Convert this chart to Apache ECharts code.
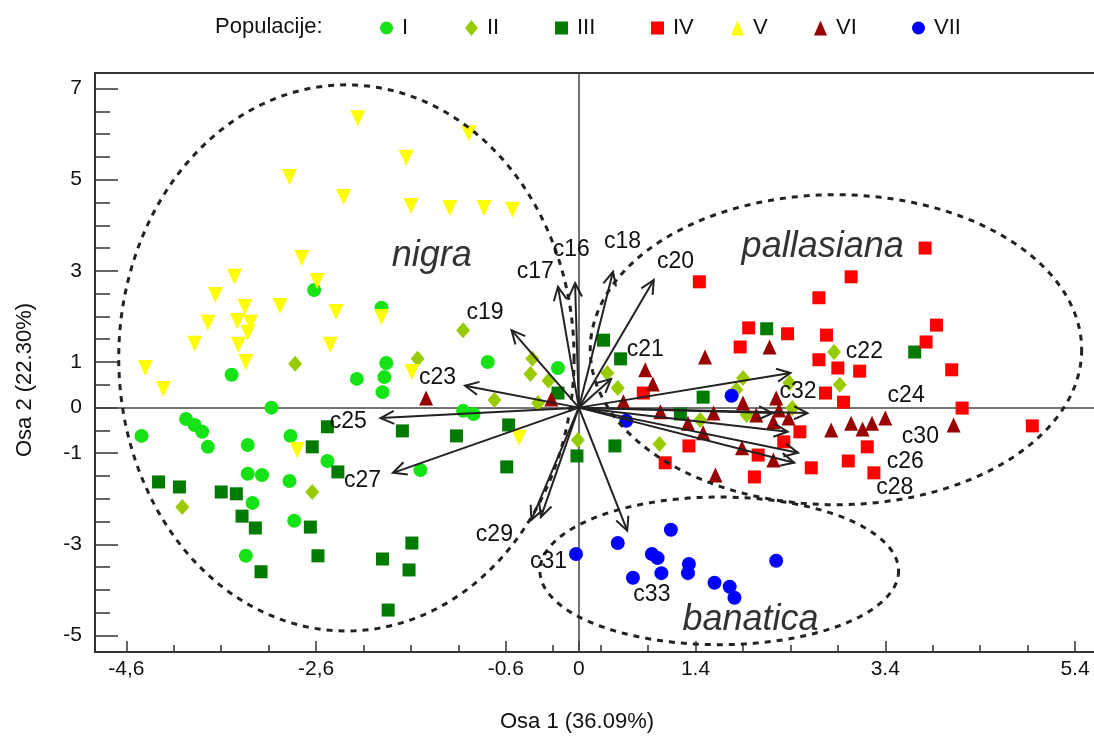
<!DOCTYPE html>
<html>
<head>
<meta charset="utf-8">
<script src="https://cdn.jsdelivr.net/npm/echarts@6/dist/echarts.min.js"></script>
<style>
  html, body { margin: 0; padding: 0; background: #fff; }
  #chart { width: 1094px; height: 738px; }
</style>
</head>
<body>
<div id="chart"></div>
<script>
const FONT = "'Liberation Sans', Arial, sans-serif";

// osa 1 / osa 2 ticks
const xLabelValues = [-4.6, -2.6, -0.6, 0.17, 1.4, 3.4, 5.4];
const xLabelText = ['-4,6', '-2,6', '-0.6', '0', '1.4', '3.4', '5.4'];
const xMinorTicks = [-4.6, -4.1, -3.6, -3.1, -2.6, -2.1, -1.6, -1.1, -0.6, -0.1, 0.4, 0.9, 1.4, 1.9, 2.4, 2.9, 3.4, 3.9, 4.4, 4.9, 5.4];
const yLabelValues = [-5, -3, -1, 0, 1, 3, 5, 7];
const yMinorTicks = [-5, -4.5, -4, -3.5, -3, -2.5, -2, -1.5, -1, -0.5, 0, 0.5, 1, 1.5, 2, 2.5, 3, 3.5, 4, 4.5, 5, 5.5, 6, 6.5, 7];
const originX = 0.17;

// populacije
const popI_x = [-2.62, -1.91, -3.49, -3.07, -3.97, -3.88, -3.80, -4.44, -3.74, -3.32, -2.87, -3.32, -3.17, -2.88, -2.48, -3.27, -2.83, -3.34, -1.86, -1.88, -1.90, -2.17, -0.79, -0.05, -1.05, -0.94, -1.50];
const popI_y = [2.58, 2.19, 0.72, 0.00, -0.25, -0.38, -0.53, -0.62, -0.86, -0.82, -0.62, -1.45, -1.48, -1.61, -1.17, -2.09, -2.48, -3.25, 0.98, 0.67, 0.34, 0.63, 1.00, 0.87, -0.07, -0.14, -1.37];

const popII_x = [-1.05, -1.53, -2.82, -0.32, -0.34, -0.15, -0.72, -0.26, 0.16, -2.64, -4.01, 0.47, 0.58, 1.90, 1.83, 1.02, 1.45, 1.94, 2.39, 2.42, 2.86, 2.92];
const popII_y = [1.70, 1.07, 0.96, 1.07, 0.74, 0.59, 0.17, 0.10, -0.71, -1.85, -2.18, 0.76, 0.43, 0.65, 0.39, -0.80, -0.27, -0.16, 0.54, -0.01, 1.22, 0.50];

const popIII_x = [-2.48, -2.64, -2.37, -4.26, -4.04, -3.60, -3.44, -3.38, -3.24, -2.66, -2.58, -3.18, -1.69, -1.12, -0.57, -0.59, -0.05, 0.15, -1.59, -1.90, -1.62, -1.84, 0.43, 0.61, 1.48, 2.15, 1.24, 0.55, 3.71];
const popIII_y = [-0.42, -0.86, -1.41, -1.63, -1.74, -1.85, -1.89, -2.38, -2.64, -2.62, -3.25, -3.60, -0.51, -0.62, -0.38, -1.30, 0.32, -1.06, -2.97, -3.32, -3.56, -4.44, 1.48, 1.07, 0.23, 1.73, -0.14, -0.84, 1.22];

const popIV_x = [1.44, 2.70, 1.96, 2.37, 2.78, 1.87, 2.70, 0.85, 2.77, 2.50, 2.33, 1.33, 2.06, 1.08, 2.62, 2.02, 3.82, 3.04, 3.94, 3.83, 2.90, 3.13, 4.10, 2.96, 4.21, 4.95, 3.21, 3.01, 3.28];
const popIV_y = [2.76, 2.41, 1.75, 1.62, 1.59, 1.33, 1.05, 0.32, 0.32, -0.53, -0.75, -0.84, -1.04, -1.21, -1.32, -1.52, 3.50, 2.87, 1.81, 1.44, 0.87, 0.80, 0.83, 0.12, -0.01, -0.40, -0.86, -1.17, -1.43];

const popV_x = [-2.16, -0.99, -1.65, -2.88, -2.31, -1.60, -1.19, -0.83, -0.53, -2.75, -3.46, -2.59, -3.66, -3.35, -2.98, -2.39, -1.91, -3.74, -3.43, -3.29, -3.32, -3.88, -3.42, -2.45, -3.34, -4.40, -4.21, -1.59, -2.80, -0.46];
const popV_y = [6.35, 6.02, 5.48, 5.06, 4.62, 4.42, 4.38, 4.38, 4.34, 3.28, 2.87, 2.78, 2.47, 2.21, 2.23, 2.10, 1.99, 1.86, 1.90, 1.86, 1.64, 1.40, 1.38, 1.38, 1.00, 0.87, 0.41, 0.78, -0.93, -0.66];

const popVI_x = [-1.44, -0.12, 2.18, 1.50, 0.87, 0.95, 0.64, 1.90, 2.25, 1.03, 1.59, 2.04, 2.28, 2.38, 2.22, 1.32, 1.48, 1.89, 2.22, 1.61, 2.83, 3.04, 3.16, 3.26, 3.40, 4.12];
const popVI_y = [0.21, 0.19, 1.33, 1.11, 0.83, 0.52, 0.13, 0.10, 0.21, -0.09, -0.12, -0.16, -0.05, -0.23, -0.31, -0.34, -0.55, -0.88, -1.15, -1.48, -0.49, -0.34, -0.47, -0.34, -0.23, -0.38];

const popVII_x = [1.78, 0.67, 0.14, 0.58, 0.94, 1.00, 1.14, 0.74, 1.04, 1.33, 1.32, 1.60, 1.76, 1.81, 2.25];
const popVII_y = [0.26, -0.29, -3.21, -2.97, -3.21, -3.30, -2.68, -3.73, -3.63, -3.43, -3.63, -3.84, -3.93, -4.17, -3.36];

// vektori znakova
const vecNames = ['c16', 'c17', 'c18', 'c19', 'c20', 'c21', 'c22', 'c23', 'c24', 'c25', 'c26', 'c27', 'c28', 'c29', 'c30', 'c31', 'c32', 'c33'];
const vecX = [0.13, -0.05, 0.53, -0.54, 0.96, 0.51, 2.40, -1.03, 2.58, -1.92, 2.48, -1.79, 2.44, -0.33, 2.37, -0.23, 2.21, 0.68];
const vecY = [2.73, 2.65, 2.98, 1.70, 2.80, 0.63, 0.76, 0.48, -0.12, -0.23, -0.99, -1.43, -1.21, -2.46, -0.53, -2.40, -0.12, -2.70];
const vecLabelX = [0.09, -0.29, 0.63, -0.82, 1.19, 0.87, 3.18, -1.32, 3.62, -2.26, 3.61, -2.11, 3.50, -0.72, 3.77, -0.15, 2.48, 0.94];
const vecLabelY = [3.46, 2.98, 3.63, 2.08, 3.20, 1.27, 1.22, 0.65, 0.26, -0.31, -1.19, -1.61, -1.76, -2.79, -0.64, -3.38, 0.34, -4.11];

// elipse: centar x, centar y, poluos x, poluos y
const groupNames = ['nigra', 'pallasiana', 'banatica'];
const ellCx = [-2.28, 2.88, 1.65];
const ellCy = [1.09, 1.27, -3.58];
const ellRx = [2.40, 2.59, 1.89];
const ellRy = [5.99, 3.40, 1.62];
const groupLabelX = [-1.38, 2.74, 1.98];
const groupLabelY = [3.33, 3.52, -4.66];

const X_MIN = -4.93, X_MAX = 5.60, Y_MIN = -5.36, Y_MAX = 7.34;

const pops = [
  { name: 'I', xs: popI_x, ys: popI_y, symbol: 'circle', size: 14, color: '#16e316' },
  { name: 'II', xs: popII_x, ys: popII_y, symbol: 'diamond', size: [14, 16], color: '#99cc00' },
  { name: 'III', xs: popIII_x, ys: popIII_y, symbol: 'rect', size: 13, color: '#007a00' },
  { name: 'IV', xs: popIV_x, ys: popIV_y, symbol: 'rect', size: 13, color: '#ff0000' },
  { name: 'V', xs: popV_x, ys: popV_y, symbol: 'triangle', size: [15, 16], rotate: 180, color: '#ffff00' },
  { name: 'VI', xs: popVI_x, ys: popVI_y, symbol: 'triangle', size: [14, 15], color: '#990000' },
  { name: 'VII', xs: popVII_x, ys: popVII_y, symbol: 'circle', size: 14, color: '#0000ff' }
];

const legendLeft = [375, 460, 550, 646, 726, 809, 907];

const chart = echarts.init(document.getElementById('chart'));

function textSeries(xs, ys, texts, font, color) {
  return {
    type: 'custom',
    silent: true,
    z: 20,
    data: xs.map((x, i) => [x, ys[i]]),
    encode: { x: 0, y: 1 },
    renderItem: (params, api) => {
      const p = api.coord([api.value(0), api.value(1)]);
      return {
        type: 'text', x: p[0], y: p[1],
        style: { text: texts[params.dataIndex], font: font, fill: color, align: 'center', verticalAlign: 'middle' }
      };
    }
  };
}

const series = pops.map(p => ({
  name: p.name,
  type: 'scatter',
  symbol: p.symbol,
  symbolSize: p.size,
  symbolRotate: p.rotate || 0,
  itemStyle: { color: p.color, opacity: 1 },
  data: p.xs.map((x, i) => [x, p.ys[i]]),
  z: 5
}));

// nulte linije
series.push({
  type: 'scatter', data: [], silent: true, z: 2,
  markLine: {
    silent: true, symbol: 'none', animation: false,
    label: { show: false },
    lineStyle: { color: '#444', width: 1.5, type: 'solid' },
    data: [{ xAxis: originX }, { yAxis: 0 }]
  }
});

// elipse
series.push({
  type: 'custom', silent: true, z: 6,
  data: ellCx.map((c, i) => [c, ellCy[i], ellRx[i], ellRy[i]]),
  encode: { x: 0, y: 1 },
  renderItem: (params, api) => {
    const c = api.coord([api.value(0), api.value(1)]);
    const s = api.size([api.value(2), api.value(3)]);
    const pts = [];
    for (let k = 0; k < 180; k++) {
      const t = k / 180 * Math.PI * 2;
      pts.push([c[0] + s[0] * Math.cos(t), c[1] + s[1] * Math.sin(t)]);
    }
    return {
      type: 'polygon', shape: { points: pts },
      style: { fill: null, stroke: '#222', lineWidth: 3, lineDash: [6, 6] }
    };
  }
});

// strelice
series.push({
  type: 'custom', silent: true, z: 10,
  data: vecX.map((x, i) => [x, vecY[i]]),
  encode: { x: 0, y: 1 },
  renderItem: (params, api) => {
    const o = api.coord([originX, 0]);
    const t = api.coord([api.value(0), api.value(1)]);
    const ang = Math.atan2(t[1] - o[1], t[0] - o[0]);
    const L = 15, A = 0.45;
    const h1 = [t[0] - L * Math.cos(ang - A), t[1] - L * Math.sin(ang - A)];
    const h2 = [t[0] - L * Math.cos(ang + A), t[1] - L * Math.sin(ang + A)];
    return {
      type: 'group',
      children: [
        { type: 'line', shape: { x1: o[0], y1: o[1], x2: t[0], y2: t[1] }, style: { stroke: '#222', lineWidth: 2 } },
        { type: 'polyline', shape: { points: [h1, t, h2] }, style: { stroke: '#222', lineWidth: 2, fill: null } }
      ]
    };
  }
});

series.push(textSeries(vecLabelX, vecLabelY, vecNames, '23px ' + FONT, '#111'));
series.push(textSeries(groupLabelX, groupLabelY, groupNames, 'italic 36px ' + FONT, '#333'));

const legends = pops.map((p, i) => ({
  data: [p.name],
  left: legendLeft[i],
  top: 12,
  itemWidth: 13,
  itemHeight: p.symbol === 'diamond' ? 16 : (p.symbol === 'triangle' ? 15 : 13),
  textStyle: { fontSize: 22, color: '#111', fontFamily: FONT, padding: [0, 0, 0, 4] },
  selectedMode: false
}));

const axisLine = { show: true, onZero: false, lineStyle: { color: '#333', width: 2 } };

chart.setOption({
  animation: false,
  backgroundColor: '#fff',
  textStyle: { fontFamily: FONT },
  grid: { left: 95, top: 73, right: 0, bottom: 86, containLabel: false },
  legend: legends,
  graphic: [
    { type: 'text', x: 215, y: 27, style: { text: 'Populacije:', font: '22px ' + FONT, fill: '#111', verticalAlign: 'middle' } },
    { type: 'text', x: 577, y: 722, style: { text: 'Osa 1 (36.09%)', font: '22px ' + FONT, fill: '#111', align: 'center', verticalAlign: 'middle' } },
    { type: 'text', x: 25, y: 380, rotation: Math.PI / 2, style: { text: 'Osa 2 (22.30%)', font: '22px ' + FONT, fill: '#111', align: 'center', verticalAlign: 'middle' } }
  ],
  xAxis: [
    {
      type: 'value', min: X_MIN, max: X_MAX, position: 'bottom',
      axisLine: axisLine, splitLine: { show: false },
      axisTick: { inside: true, length: 11, customValues: xLabelValues, lineStyle: { color: '#333', width: 1.5 } },
      axisLabel: {
        customValues: xLabelValues, fontSize: 21, color: '#111', margin: 7,
        formatter: v => { const i = xLabelValues.findIndex(q => Math.abs(q - v) < 1e-6); return i >= 0 ? xLabelText[i] : ''; }
      }
    },
    {
      type: 'value', min: X_MIN, max: X_MAX, position: 'bottom',
      axisLine: { show: false, onZero: false }, splitLine: { show: false },
      axisTick: { inside: true, length: 7, customValues: xMinorTicks, lineStyle: { color: '#333', width: 1.5 } },
      axisLabel: { show: false }
    },
    {
      type: 'value', min: X_MIN, max: X_MAX, position: 'top',
      axisLine: axisLine, splitLine: { show: false }, axisTick: { show: false }, axisLabel: { show: false }
    }
  ],
  yAxis: [
    {
      type: 'value', min: Y_MIN, max: Y_MAX, position: 'left',
      axisLine: axisLine, splitLine: { show: false },
      axisTick: { inside: true, length: 23, customValues: yLabelValues, lineStyle: { color: '#333', width: 1.5 } },
      axisLabel: { customValues: yLabelValues, fontSize: 21, color: '#111', margin: 13 }
    },
    {
      type: 'value', min: Y_MIN, max: Y_MAX, position: 'left',
      axisLine: { show: false, onZero: false }, splitLine: { show: false },
      axisTick: { inside: true, length: 15, customValues: yMinorTicks, lineStyle: { color: '#333', width: 1.5 } },
      axisLabel: { show: false }
    }
  ],
  series: series
});
</script>
</body>
</html>
